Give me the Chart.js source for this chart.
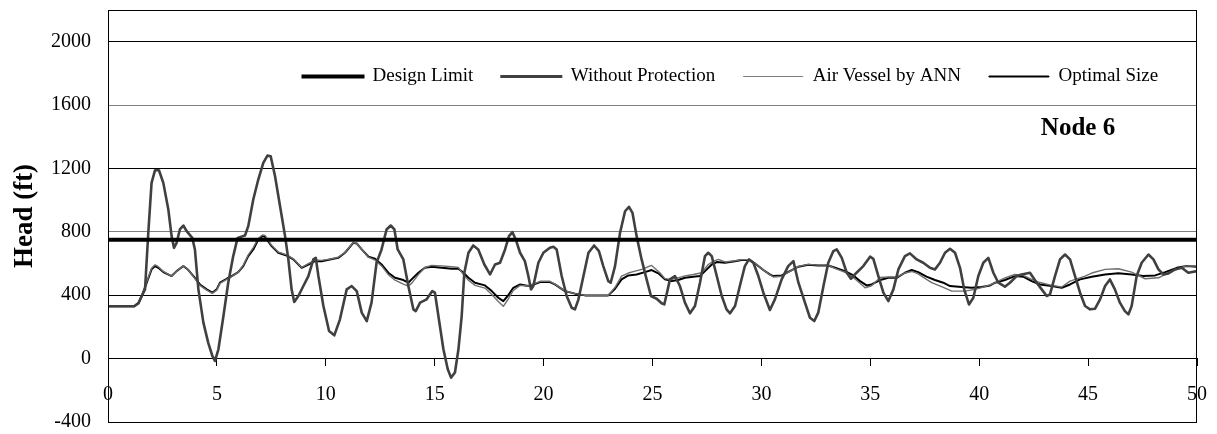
<!DOCTYPE html>
<html>
<head>
<meta charset="utf-8">
<script src="https://cdn.jsdelivr.net/npm/chart.js@4/dist/chart.umd.min.js"></script>
<style>
  html, body { margin: 0; padding: 0; background: #fff; }
  #wrap { width: 1217px; height: 434px; }
</style>
</head>
<body>
<div id="wrap"><canvas id="headChart" width="1217" height="434"></canvas></div>
<script>
// Transient head at Node 6, time in seconds vs head in ft

const designLimit = 750;
const limitTime = [0, 50];

const woTime = [0, 1.2, 1.4, 1.55, 1.7, 1.85, 2.0, 2.16, 2.34, 2.54, 2.77, 2.92, 3.03, 3.15, 3.3, 3.46, 3.61, 3.87, 3.99,
  4.15, 4.38, 4.6, 4.79, 4.91, 5.07, 5.3, 5.52, 5.75, 5.95, 6.29, 6.44, 6.67, 6.9, 7.13, 7.32, 7.47, 7.67, 7.9, 8.13,
  8.28, 8.43, 8.55, 8.74, 8.97, 9.2, 9.43, 9.54, 9.66, 9.89, 10.15, 10.39, 10.65, 10.96, 11.19, 11.42, 11.65, 11.88,
  12.1, 12.33, 12.56, 12.79, 12.98, 13.15, 13.3, 13.56, 13.79, 14.02, 14.13, 14.33, 14.63, 14.89, 15.01, 15.17, 15.4,
  15.6, 15.75, 15.93, 16.09, 16.24, 16.36, 16.55, 16.77, 17.0, 17.28, 17.54, 17.77, 18.0, 18.23, 18.41, 18.57, 18.72,
  18.92, 19.14, 19.3, 19.42, 19.53, 19.76, 19.99, 20.29, 20.45, 20.6, 20.83, 21.06, 21.29, 21.44, 21.6, 21.83, 22.06,
  22.32, 22.54, 22.74, 22.97, 23.08, 23.28, 23.51, 23.74, 23.92, 24.08, 24.27, 24.5, 24.73, 24.93, 25.19, 25.42, 25.54,
  25.7, 25.8, 26.03, 26.26, 26.49, 26.72, 26.95, 27.18, 27.41, 27.56, 27.72, 27.95, 28.18, 28.4, 28.56, 28.79, 29.01,
  29.24, 29.43, 29.63, 29.86, 30.09, 30.39, 30.62, 30.93, 31.23, 31.47, 31.7, 32.0, 32.23, 32.43, 32.61, 32.85, 33.07,
  33.3, 33.46, 33.69, 33.92, 34.11, 34.37, 34.68, 34.99, 35.14, 35.37, 35.6, 35.83, 36.06, 36.29, 36.59, 36.82, 37.13,
  37.43, 37.74, 37.97, 38.2, 38.43, 38.66, 38.89, 39.12, 39.31, 39.53, 39.73, 39.96, 40.19, 40.42, 40.65, 40.88, 41.18,
  41.41, 41.72, 41.95, 42.33, 42.64, 42.87, 43.1, 43.25, 43.48, 43.71, 43.94, 44.17, 44.4, 44.63, 44.86, 45.09, 45.32,
  45.55, 45.78, 46.0, 46.23, 46.46, 46.69, 46.85, 47.0, 47.23, 47.46, 47.77, 48.0, 48.23, 48.46, 48.69, 48.99, 49.3,
  49.6, 50];
const woHead = [330, 330, 350, 395, 437, 794, 1109, 1189, 1189, 1109, 941, 773, 699, 731, 815, 840, 804, 762, 689,
  437, 227, 101, 17, -15, 59, 269, 479, 647, 762, 777, 836, 1004, 1130, 1235, 1281, 1277, 1151, 962, 773,
  626, 437, 357, 395, 458, 521, 626, 636, 521, 332, 174, 147, 248, 437, 458, 426, 290, 237,
  353, 605, 689, 815, 840, 815, 689, 626, 458, 311, 300, 353, 374, 426, 416, 269, 59,
  -67, -120, -88, 59, 269, 542, 668, 714, 689, 594, 531, 594, 605, 689, 773, 798, 752,
  668, 615, 521, 437, 458, 605, 668, 700, 706, 689, 521, 395, 321, 311, 374, 521, 668,
  714, 678, 584, 489, 479, 584, 794, 930, 958, 920, 773, 626, 500, 395, 378, 349, 342,
  437, 500, 521, 458, 353, 286, 332, 479, 647, 668, 647, 521, 395, 311, 286, 332, 458,
  584, 626, 605, 521, 416, 307, 374, 500, 584, 615, 479, 353, 258, 237, 290, 458, 605,
  678, 689, 636, 542, 504, 542, 584, 643, 630, 521, 416, 363, 437, 563, 647, 664, 626,
  605, 573, 563, 605, 668, 693, 668, 573, 437, 342, 384, 521, 605, 636, 542, 479, 454,
  479, 521, 531, 542, 479, 437, 395, 405, 521, 626, 657, 626, 521, 416, 332, 311, 315,
  374, 458, 500, 437, 353, 300, 279, 332, 521, 605, 657, 626, 563, 531, 538, 563, 573,
  542, 552];

const annTime = [0, 1.2, 1.4, 1.55, 1.78, 2.0, 2.16, 2.31, 2.54, 2.92, 3.15, 3.46, 3.69, 3.99, 4.22, 4.53, 4.79, 4.99,
  5.14, 5.45, 5.68, 5.98, 6.21, 6.44, 6.67, 6.9, 7.09, 7.21, 7.51, 7.82, 8.2, 8.51, 8.89, 9.2, 9.5, 9.81, 10.19,
  10.57, 10.88, 11.26, 11.42, 11.65, 11.96, 12.26, 12.56, 12.87, 13.18, 13.56, 13.79, 13.94, 14.25, 14.55, 14.86,
  15.32, 15.78, 16.09, 16.32, 16.55, 16.85, 17.31, 17.62, 17.92, 18.15, 18.35, 18.61, 18.92, 19.3, 19.53, 19.84,
  20.29, 20.52, 20.98, 21.44, 21.9, 22.51, 22.97, 23.28, 23.58, 23.89, 24.2, 24.55, 24.81, 24.96, 25.34, 25.57,
  25.88, 26.18, 26.49, 26.87, 27.26, 27.56, 27.8, 28.03, 28.33, 28.79, 29.09, 29.47, 29.77, 30.09, 30.4, 30.55,
  30.93, 31.31, 31.7, 32.15, 32.61, 33.07, 33.38, 33.84, 34.22, 34.53, 34.76, 35.06, 35.45, 35.83, 36.21, 36.59,
  36.9, 37.2, 37.58, 37.82, 38.35, 38.74, 39.35, 39.8, 40.11, 40.5, 40.73, 41.18, 41.64, 42.02, 42.41, 42.79, 43.33,
  43.79, 44.17, 44.86, 45.17, 45.78, 46.39, 47.0, 47.62, 48.23, 48.84, 49.45, 50];
const annHead = [330, 330, 350, 395, 485, 570, 592, 580, 550, 521, 552, 586, 559, 505, 462, 432, 412, 432,
  475, 500, 518, 546, 590, 655, 700, 760, 780, 778, 715, 672, 655, 630, 575, 600, 622, 620, 628,
  640, 670, 733, 728, 690, 640, 622, 585, 530, 495, 470, 458, 475, 530, 575, 588,
  585, 580, 575, 530, 495, 462, 445, 405, 360, 330, 370, 430, 462, 458, 470, 488,
  488, 470, 428, 410, 399, 399, 399, 450, 521, 540, 552, 565, 580, 588, 542, 505,
  500, 510, 522, 531, 542, 594, 615, 626, 610, 618, 625, 625, 596, 560, 528, 515,
  520, 550, 582, 595, 590, 590, 570, 545, 512, 475, 447, 460, 512, 515, 515, 540,
  550, 535, 500, 479, 450, 426, 426, 437, 448, 465, 480, 510, 531, 525, 500, 480, 462,
  452, 489, 521, 540, 563, 567, 546, 504, 510, 552, 584, 584];

const optTime = [0, 1.2, 1.4, 1.55, 1.78, 2.0, 2.16, 2.31, 2.54, 2.92, 3.15, 3.46, 3.69, 3.99, 4.22, 4.53, 4.79, 4.99,
  5.14, 5.45, 5.68, 5.98, 6.21, 6.44, 6.67, 6.9, 7.09, 7.21, 7.51, 7.82, 8.2, 8.51, 8.89, 9.2, 9.5, 9.81, 10.19,
  10.57, 10.88, 11.26, 11.42, 11.65, 11.96, 12.26, 12.56, 12.87, 13.18, 13.56, 13.79, 13.94, 14.25, 14.55, 14.86,
  15.32, 15.78, 16.09, 16.32, 16.55, 16.85, 17.31, 17.62, 17.92, 18.15, 18.35, 18.61, 18.92, 19.3, 19.53, 19.84,
  20.29, 20.52, 20.98, 21.44, 21.9, 22.51, 22.97, 23.28, 23.58, 23.89, 24.27, 24.65, 24.96, 25.27, 25.57, 25.88,
  26.18, 26.49, 26.87, 27.18, 27.41, 27.72, 27.95, 28.33, 28.79, 29.09, 29.47, 29.77, 30.09, 30.4, 30.55, 30.93,
  31.31, 31.7, 32.15, 32.61, 33.07, 33.38, 33.84, 34.22, 34.53, 34.83, 35.06, 35.45, 35.83, 36.21, 36.59, 36.9,
  37.2, 37.58, 37.97, 38.35, 38.66, 39.19, 39.65, 40.11, 40.5, 40.73, 41.18, 41.64, 42.02, 42.41, 42.79, 43.33,
  43.79, 44.17, 44.63, 45.17, 45.78, 46.39, 47.0, 47.54, 48.08, 48.54, 49.07, 49.53, 50];
const optHead = [330, 330, 350, 395, 479, 563, 584, 573, 546, 521, 552, 584, 559, 510, 468, 437, 416, 437,
  479, 504, 521, 546, 584, 647, 689, 752, 773, 769, 710, 668, 651, 626, 573, 594, 615, 615, 626,
  636, 668, 731, 727, 689, 643, 630, 594, 542, 510, 496, 479, 500, 542, 573, 580,
  573, 567, 567, 542, 510, 479, 462, 426, 384, 363, 395, 447, 468, 458, 468, 483,
  483, 468, 426, 410, 399, 399, 399, 441, 500, 525, 531, 546, 559, 538, 500, 489,
  496, 510, 517, 521, 552, 594, 609, 605, 615, 622, 622, 594, 559, 530, 521, 525,
  552, 580, 592, 588, 588, 573, 552, 525, 489, 462, 468, 496, 510, 510, 542, 559,
  546, 517, 496, 479, 458, 452, 447, 452, 462, 479, 496, 521, 517, 489, 468, 458,
  447, 468, 500, 517, 531, 538, 531, 521, 525, 546, 573, 584, 580];

const yTicks = [-400, 0, 400, 800, 1200, 1600, 2000];
const greyGrid = [800, 1600];

const toPoints = (xs, ys) => xs.map((x, i) => ({ x: x, y: ys[i] }));

const serif = '"Liberation Serif", "DejaVu Serif", serif';

// draws the plot box and the node label, lays the legend over the plot
const framePlugin = {
    id: 'frame',
    afterInit(chart) {
        const lg = chart.legend;
        if (!lg) return;
        const fit = lg.fit;
        lg.fit = function () {
            fit.call(this);
            this.height = 0;   // legend sits inside the plot, takes no room
        };
    },
    afterLayout(chart) {
        const lg = chart.legend;
        if (!lg) return;
        const dx = 275, dy = 29;
        lg.left += dx;
        lg.right = 1217;
        lg.top += dy;
        lg.bottom = lg.top + 80;
    },
    afterDatasetsDraw(chart) {
        const { ctx, chartArea } = chart;
        ctx.save();
        ctx.strokeStyle = '#000';
        ctx.lineWidth = 1;
        ctx.strokeRect(Math.round(chartArea.left) + 0.5, Math.round(chartArea.top) + 0.5,
            Math.round(chartArea.right - chartArea.left) - 1, Math.round(chartArea.bottom - chartArea.top));
        ctx.fillStyle = '#000';
        ctx.font = 'bold 25px ' + serif;
        ctx.textAlign = 'center';
        ctx.textBaseline = 'middle';
        ctx.fillText('Node 6', 1078, 129);
        ctx.restore();
    }
};

const legendStyle = [
    { color: '#000000', lw: 3 },
    { color: '#404040', lw: 2 },
    { color: '#808080', lw: 0 },
    { color: '#000000', lw: 1 }
];

new Chart(document.getElementById('headChart'), {
    type: 'line',
    data: {
        datasets: [
            {
                label: 'Design Limit',
                data: toPoints(limitTime, limitTime.map(() => designLimit)),
                borderColor: '#000',
                borderWidth: 4
            },
            {
                label: 'Without Protection',
                data: toPoints(woTime, woHead),
                borderColor: '#404040',
                borderWidth: 2.6
            },
            {
                label: 'Air Vessel by ANN',
                data: toPoints(annTime, annHead),
                borderColor: '#6e6e6e',
                borderWidth: 1.4
            },
            {
                label: 'Optimal Size',
                data: toPoints(optTime, optHead),
                borderColor: '#000',
                borderWidth: 2
            }
        ]
    },
    options: {
        responsive: false,
        animation: false,
        elements: {
            point: { radius: 0, hoverRadius: 0 },
            line: { tension: 0, borderJoinStyle: 'round' }
        },
        layout: { autoPadding: false, padding: { top: 10, right: 20, bottom: 12, left: 0 } },
        plugins: {
            tooltip: { enabled: false },
            legend: {
                position: 'top',
                align: 'start',
                labels: {
                    font: { family: serif, size: 19 },
                    color: '#000',
                    boxWidth: 60,
                    boxHeight: 1,
                    padding: 28,
                    generateLabels(chart) {
                        return chart.data.datasets.map((ds, i) => ({
                            text: ds.label,
                            fillStyle: legendStyle[i].color,
                            strokeStyle: legendStyle[i].color,
                            lineWidth: legendStyle[i].lw,
                            fontColor: '#000',
                            hidden: false,
                            datasetIndex: i
                        }));
                    }
                }
            }
        },
        scales: {
            x: {
                type: 'linear',
                position: { y: 0 },
                min: 0,
                max: 50,
                afterFit(scale) {
                    scale.height = 0;
                    scale.paddingLeft = 0;
                    scale.paddingRight = 0;
                },
                ticks: {
                    stepSize: 5,
                    color: '#000',
                    font: { family: serif, size: 20 },
                    padding: 17,
                    maxRotation: 0
                },
                grid: {
                    drawOnChartArea: false,
                    drawTicks: true,
                    tickLength: 7,
                    color: '#000'
                },
                border: { display: true, color: '#000' }
            },
            y: {
                min: -400,
                max: 2200,
                afterFit(scale) {
                    scale.width = 108;
                    scale.paddingTop = 0;
                    scale.paddingBottom = 0;
                },
                afterBuildTicks(scale) {
                    scale.ticks = yTicks.map(v => ({ value: v }));
                },
                ticks: {
                    color: '#000',
                    font: { family: serif, size: 20 },
                    padding: 17,
                    callback: (v) => String(v)
                },
                grid: {
                    drawTicks: false,
                    color: (c) => greyGrid.includes(c.tick && c.tick.value) ? '#808080' : '#000'
                },
                border: { color: '#000' },
                title: {
                    display: true,
                    text: 'Head (ft)',
                    color: '#000',
                    font: { family: serif, size: 27, weight: 'bold', lineHeight: 1.2 },
                    padding: { top: 9, bottom: 0 }
                }
            }
        }
    },
    plugins: [framePlugin]
});
</script>
</body>
</html>
